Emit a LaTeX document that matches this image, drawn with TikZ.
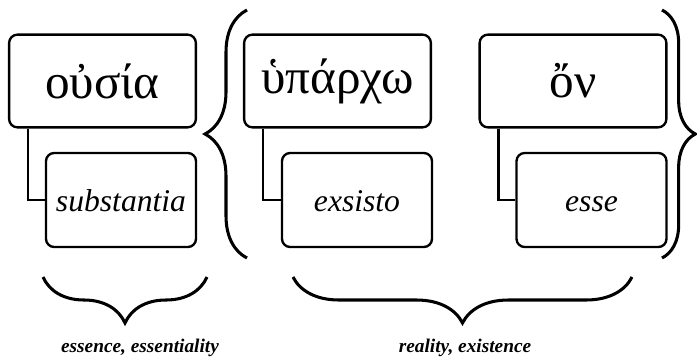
\documentclass[tikz,border=0pt]{standalone}
\usepackage{fontspec}
\setmainfont{Liberation Serif}
\usetikzlibrary{decorations.pathreplacing}

\begin{document}
\begin{tikzpicture}[x=0.03cm, y=-0.03cm,
  greek/.style={draw, rounded corners=7pt, line width=2pt, minimum width=5.6cm,
                minimum height=2.78cm, font=\fontsize{42}{46}\selectfont},
  latin/.style={draw, rounded corners=7pt, line width=2pt, minimum width=4.5cm,
                minimum height=2.82cm, text height=0.7cm, text depth=0cm,
                font=\fontsize{27}{30}\selectfont\itshape},
  link/.style={line width=2pt},
  brc/.style={decorate, decoration={brace, amplitude=#1}, line width=2.6pt},
  lab/.style={font=\fontsize{16.5}{18}\selectfont\bfseries\itshape}
]
  \useasboundingbox (0,0) rectangle (697,362);
  % Row 1
  \node[greek] (ousia)    at (102.5,81) {οὐσία};
  \node[greek] (hyparcho) at (337.5,81) {ὑπάρχω};
  \node[greek] (on)       at (573,81)   {ὄν};
  % Row 2
  \node[latin] (substantia) at (121,200)   {substantia};
  \node[latin] (exsisto)    at (357,200)   {exsisto};
  \node[latin] (esse)       at (591.5,200) {esse};

  % links
  \draw[link] ([xshift=0.6cm]ousia.south west) |- (substantia.west);
  \draw[link] ([xshift=0.6cm]hyparcho.south west) |- (exsisto.west);
  \draw[link] ([xshift=0.6cm]on.south west) |- (esse.west);

  % braces
  \draw[brc=1.26cm] (247,258) -- (247,10);
  \draw[brc=1.0cm] (662,10) -- (662,258);
  \draw[brc=1.38cm] (207,277) -- (43,277);
  \draw[brc=1.38cm] (632,277) -- (293,277);

  % labels
  \node[lab] (essence) at (140,348) {essence, essentiality};
  \node[lab] (reality) at (465,348) {reality, existence};
\end{tikzpicture}
\end{document}
